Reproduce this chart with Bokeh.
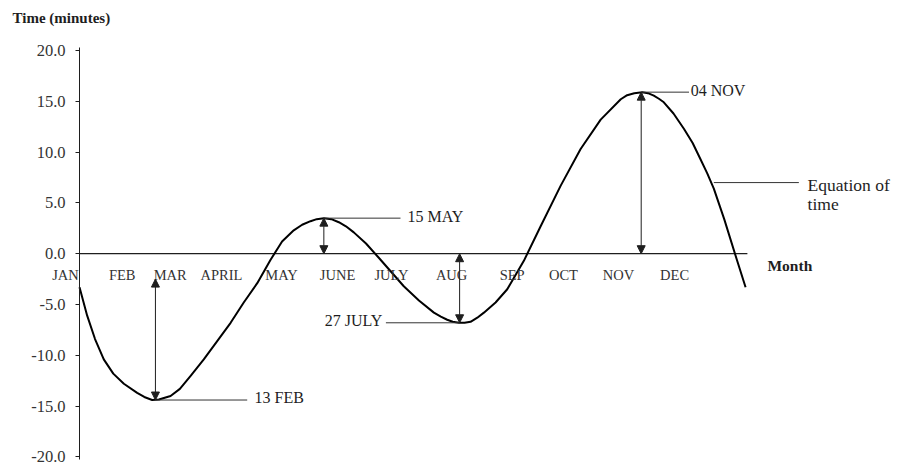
from bokeh.plotting import figure
from bokeh.models import (Range1d, FixedTicker, PrintfTickFormatter, Arrow, NormalHead,
                          Label, LabelSet, ColumnDataSource)
from bokeh.core.properties import value
from bokeh.embed import file_html
from bokeh.resources import INLINE

# Equation of time through the year: day of year vs. minutes
day = [0, 4.2, 8.5, 13.3, 18.5, 24.3, 31.6, 35.5, 39.8, 43.5, 49.9, 55.0, 61.0,
       68.1, 82.8, 90.0, 97.4, 104.7, 111.0, 117.4, 122.0, 126.6, 130.0, 133.9,
       138.0, 142.1, 146.0, 150.3, 157.0, 164.0, 177.7, 186.0, 194.2, 198.0,
       201.5, 204.5, 207.9, 211.0, 214.3, 218.0, 221.6, 228.0, 234.4, 243.5,
       252.7, 263.7, 274.6, 285.6, 296.6, 300.1, 304.0, 308.4, 311.5, 314.7,
       317.5, 320.2, 325.5, 331.2, 336.0, 340.3, 344.0, 347.6, 353.3, 360.4, 365]
minutes = [-3.3, -6.1, -8.4, -10.4, -11.8, -12.8, -13.7, -14.1, -14.4, -14.35, -14.0, -13.3, -12.0,
           -10.4, -6.8, -4.8, -2.9, -0.6, 1.2, 2.3, 2.85, 3.2, 3.4, 3.5,
           3.4, 3.1, 2.7, 2.1, 1.0, -0.4, -3.2, -4.6, -5.8, -6.2,
           -6.5, -6.7, -6.8, -6.8, -6.7, -6.3, -5.8, -4.8, -3.5, -0.7,
           2.7, 6.7, 10.3, 13.2, 15.2, 15.6, 15.8, 15.9, 15.8, 15.55,
           15.25, 14.9, 13.8, 12.3, 10.9, 9.3, 7.9, 6.4, 3.4, -0.7, -3.3]

# Month names along the zero line
months = ["JAN", "FEB", "MAR", "APRIL", "MAY", "JUNE", "JULY", "AUG", "SEP", "OCT", "NOV", "DEC"]
month_pos = [-7.7, 23.4, 49.7, 77.8, 110.7, 141.4, 170.9, 203.9, 237.1, 265.2, 295.4, 326.1]

# Turning points of the curve
extreme_names = ["13 FEB", "15 MAY", "27 JULY", "04 NOV"]
extreme_day = [41.6, 133.9, 208.3, 307.8]
extreme_min = [-14.4, 3.5, -6.8, 15.9]

y_ticks = [-20, -15, -10, -5, 0, 5, 10, 15, 20]

SERIF = "Liberation Serif"
INK = "#1e1e1e"

p = figure(width=900, height=468, output_backend="svg", toolbar_location=None,
           x_range=Range1d(-43.3, 449.9), y_range=Range1d(-21.14, 24.92),
           min_border_left=0, min_border_right=0, min_border_top=0, min_border_bottom=0)
p.outline_line_color = None
p.grid.visible = False
p.xaxis.visible = False
p.background_fill_color = "white"

# vertical minutes axis standing on day 0
ya = p.yaxis[0]
ya.fixed_location = 0
ya.bounds = (-20.3, 20.3)
ya.ticker = FixedTicker(ticks=y_ticks)
ya.formatter = PrintfTickFormatter(format="%.1f")
ya.major_tick_in = 0
ya.major_tick_out = 4
ya.minor_tick_in = 0
ya.minor_tick_out = 0
ya.major_label_standoff = 10
ya.major_label_text_font = SERIF
ya.major_label_text_font_size = "16.5px"
ya.major_label_text_color = "#333333"
ya.axis_line_color = INK
ya.major_tick_line_color = INK

# zero line acting as the month axis
p.line([0, 366], [0, 0], line_color=INK, line_width=1.2)

# equation of time curve
p.line(day, minutes, line_color="black", line_width=2, line_join="round")

# month names
src = ColumnDataSource(dict(x=month_pos, y=[-2.1] * len(months), t=months))
p.add_layout(LabelSet(x="x", y="y", text="t", source=src, text_align="center",
                      text_baseline="middle", text_font=value(SERIF),
                      text_font_size="14.5px", text_color="#333333"))

# double-headed arrows from the zero line to each turning point
arrow_top = [-2.5, 0, 0, 0]
for d, m, top in zip(extreme_day, extreme_min, arrow_top):
    lo, hi = (m, top) if m < top else (top, m)
    p.add_layout(Arrow(x_start=d, y_start=lo, x_end=d, y_end=hi, line_color=INK, line_width=1,
                       start=NormalHead(size=8, fill_color=INK, line_color=INK),
                       end=NormalHead(size=8, fill_color=INK, line_color=INK)))

# leader lines and date labels
leader_to = [91.9, 175.9, 167.9, 334.0]
label_x = [95.9, 179.7, 165.9, 334.9]
label_align = ["left", "left", "right", "left"]
for name, d, m, lt, lx, al in zip(extreme_names, extreme_day, extreme_min, leader_to, label_x, label_align):
    p.line([d, lt], [m, m], line_color="#333333", line_width=1)
    p.add_layout(Label(x=lx, y=m + 0.2, text=name, text_align=al, text_baseline="middle",
                       text_font=SERIF, text_font_size="16px", text_color=INK))

# curve caption
p.line([347.6, 394.2], [7.0, 7.0], line_color="#333333", line_width=1)
p.add_layout(Label(x=399, y=6.8, text="Equation of", text_baseline="middle",
                   text_font=SERIF, text_font_size="17.5px", text_color=INK))
p.add_layout(Label(x=399, y=4.85, text="time", text_baseline="middle",
                   text_font=SERIF, text_font_size="17.5px", text_color=INK))

# axis titles
p.add_layout(Label(x=377, y=-1.2, text="Month", text_baseline="middle",
                   text_font=SERIF, text_font_size="15.5px", text_font_style="bold", text_color=INK))
p.add_layout(Label(x=-36.7, y=23.2, text="Time (minutes)", text_baseline="middle",
                   text_font=SERIF, text_font_size="15px", text_font_style="bold", text_color=INK))

open("out.html", "w").write(file_html(p, INLINE))
